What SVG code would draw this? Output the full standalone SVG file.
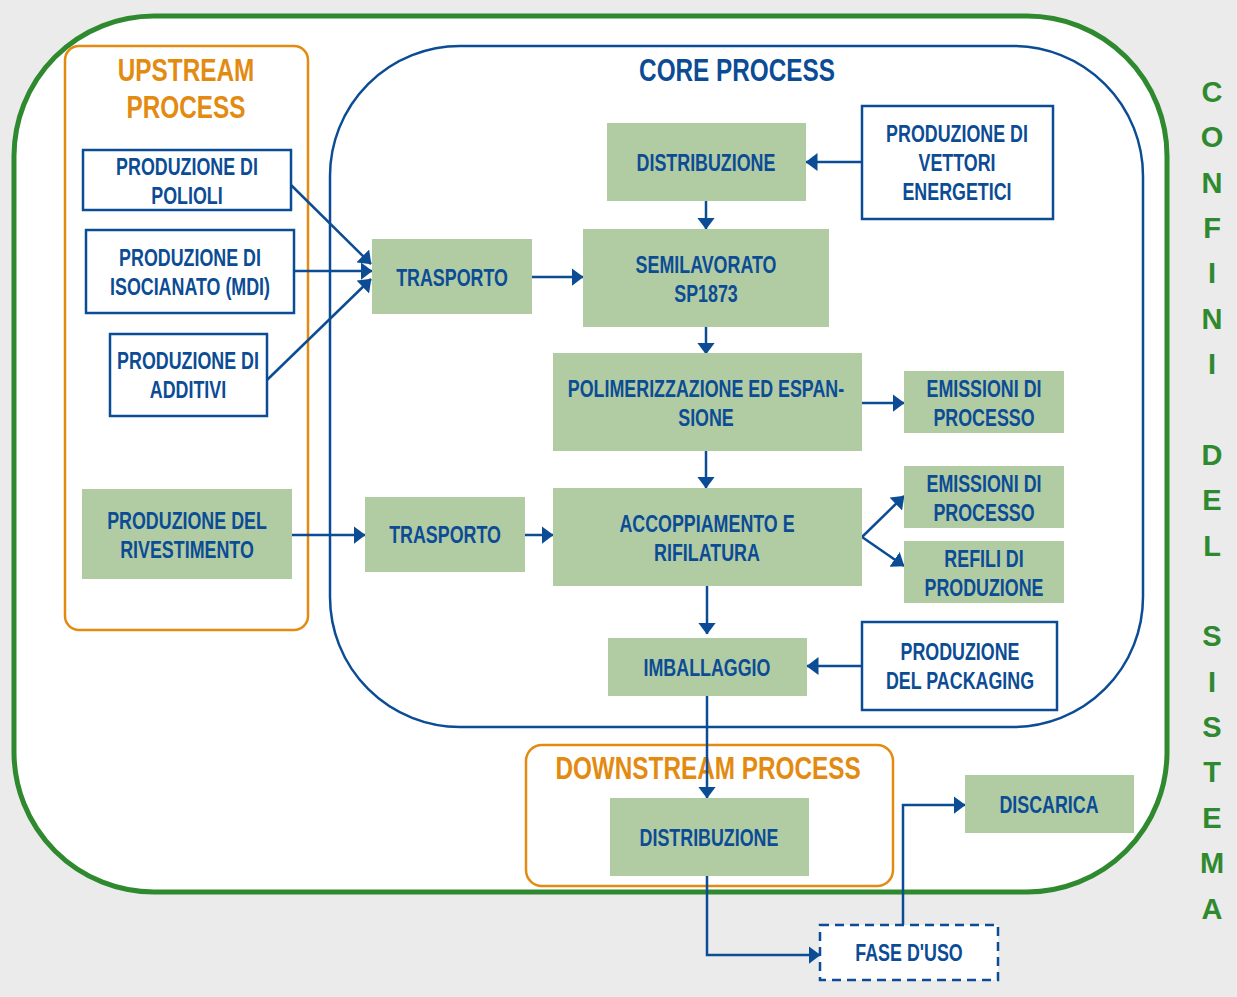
<svg xmlns="http://www.w3.org/2000/svg" width="1237" height="997" viewBox="0 0 1237 997">
<defs>
<style>
.t{font-family:"Liberation Sans",Arial,sans-serif;font-weight:bold;font-size:23.5px;fill:#0b4c95;text-anchor:middle}
.h{font-family:"Liberation Sans",Arial,sans-serif;font-weight:bold;font-size:32px;text-anchor:middle}
.o{fill:#e38a10}
.b{fill:#0b4c95}
.g{fill:#b1cba3}
.w{fill:#fff;stroke:#0b4c95;stroke-width:2.5}
.c{fill:none;stroke:#0b4c95;stroke-width:2.5}
.v{font-family:"Liberation Sans",Arial,sans-serif;font-weight:bold;font-size:29px;fill:#2f8a2f;text-anchor:middle}
</style>
<marker id="ah" markerWidth="12" markerHeight="18" refX="11.5" refY="9" orient="auto" markerUnits="userSpaceOnUse">
<path d="M0,0 L12,9 L0,18 Z" fill="#0b4c95"/>
</marker>
</defs>
<rect x="0" y="0" width="1237" height="997" fill="#ebebeb"/>
<rect id="system-boundary" x="14" y="16" width="1153" height="876" rx="140" ry="140" fill="#fff" stroke="#2f8a2f" stroke-width="5"/>
<g id="upstream">
<rect x="65" y="46" width="243" height="584" rx="14" fill="none" stroke="#e38a10" stroke-width="2.5"/>
<text class="h o" transform="translate(186,81) scale(.76,1)">UPSTREAM</text>
<text class="h o" transform="translate(186,118) scale(.76,1)">PROCESS</text>
</g>
<g id="core">
<rect x="330" y="46" width="813" height="681" rx="130" ry="130" fill="none" stroke="#0b4c95" stroke-width="2.5"/>
<text class="h b" transform="translate(737,81) scale(.76,1)">CORE PROCESS</text>
</g>
<g id="downstream">
<rect x="526" y="745" width="367" height="141" rx="16" fill="none" stroke="#e38a10" stroke-width="2.5"/>
<text class="h o" transform="translate(708,779) scale(.76,1)">DOWNSTREAM PROCESS</text>
</g>

<g id="connectors">
<line class="c" x1="291" y1="185" x2="371" y2="264" marker-end="url(#ah)"/>
<line class="c" x1="294" y1="271" x2="372" y2="271" marker-end="url(#ah)"/>
<line class="c" x1="267" y1="380" x2="371" y2="279" marker-end="url(#ah)"/>
<line class="c" x1="532" y1="277" x2="583" y2="277" marker-end="url(#ah)"/>
<line class="c" x1="862" y1="162" x2="806" y2="162" marker-end="url(#ah)"/>
<line class="c" x1="706" y1="201" x2="706" y2="229" marker-end="url(#ah)"/>
<line class="c" x1="706" y1="327" x2="706" y2="354" marker-end="url(#ah)"/>
<line class="c" x1="706" y1="451" x2="706" y2="488" marker-end="url(#ah)"/>
<line class="c" x1="862" y1="403" x2="904" y2="403" marker-end="url(#ah)"/>
<line class="c" x1="862" y1="537" x2="904" y2="496" marker-end="url(#ah)"/>
<line class="c" x1="862" y1="537" x2="904" y2="566" marker-end="url(#ah)"/>
<line class="c" x1="292" y1="535" x2="365" y2="535" marker-end="url(#ah)"/>
<line class="c" x1="525" y1="535" x2="553" y2="535" marker-end="url(#ah)"/>
<line class="c" x1="707" y1="586" x2="707" y2="634" marker-end="url(#ah)"/>
<line class="c" x1="862" y1="666" x2="807" y2="666" marker-end="url(#ah)"/>
<line class="c" x1="707" y1="696" x2="707" y2="798" marker-end="url(#ah)"/>
<polyline class="c" points="707,876 707,955 820,955" marker-end="url(#ah)"/>
<polyline class="c" points="903,925 903,805 965,805" marker-end="url(#ah)"/>
</g>

<g id="polioli"><rect class="w" x="83" y="150" width="208" height="60"/><text class="t" transform="translate(187,175) scale(.76,1)">PRODUZIONE DI</text><text class="t" transform="translate(187,204) scale(.76,1)">POLIOLI</text></g>
<g id="isocianato"><rect class="w" x="86" y="230" width="208" height="83"/><text class="t" transform="translate(190,266) scale(.76,1)">PRODUZIONE DI</text><text class="t" transform="translate(190,295) scale(.76,1)">ISOCIANATO (MDI)</text></g>
<g id="additivi"><rect class="w" x="110" y="334" width="157" height="82"/><text class="t" transform="translate(188,369) scale(.76,1)">PRODUZIONE DI</text><text class="t" transform="translate(188,398) scale(.76,1)">ADDITIVI</text></g>
<g id="rivestimento"><rect class="g" x="82" y="489" width="210" height="90"/><text class="t" transform="translate(187,529) scale(.76,1)">PRODUZIONE DEL</text><text class="t" transform="translate(187,558) scale(.76,1)">RIVESTIMENTO</text></g>
<g id="trasporto1"><rect class="g" x="372" y="239" width="160" height="75"/><text class="t" transform="translate(452,286) scale(.76,1)">TRASPORTO</text></g>
<g id="trasporto2"><rect class="g" x="365" y="497" width="160" height="75"/><text class="t" transform="translate(445,543) scale(.76,1)">TRASPORTO</text></g>
<g id="distribuzione-core"><rect class="g" x="607" y="123" width="199" height="78"/><text class="t" transform="translate(706,171) scale(.76,1)">DISTRIBUZIONE</text></g>
<g id="vettori"><rect class="w" x="862" y="106" width="191" height="113"/><text class="t" transform="translate(957,142) scale(.76,1)">PRODUZIONE DI</text><text class="t" transform="translate(957,171) scale(.76,1)">VETTORI</text><text class="t" transform="translate(957,200) scale(.76,1)">ENERGETICI</text></g>
<g id="semilavorato"><rect class="g" x="583" y="229" width="246" height="98"/><text class="t" transform="translate(706,273) scale(.76,1)">SEMILAVORATO</text><text class="t" transform="translate(706,302) scale(.76,1)">SP1873</text></g>
<g id="polimerizzazione"><rect class="g" x="553" y="353" width="309" height="98"/><text class="t" transform="translate(706,397) scale(.76,1)">POLIMERIZZAZIONE ED ESPAN-</text><text class="t" transform="translate(706,426) scale(.76,1)">SIONE</text></g>
<g id="emissioni1"><rect class="g" x="904" y="371" width="160" height="62"/><text class="t" transform="translate(984,397) scale(.76,1)">EMISSIONI DI</text><text class="t" transform="translate(984,426) scale(.76,1)">PROCESSO</text></g>
<g id="accoppiamento"><rect class="g" x="553" y="488" width="309" height="98"/><text class="t" transform="translate(707,532) scale(.76,1)">ACCOPPIAMENTO E</text><text class="t" transform="translate(707,561) scale(.76,1)">RIFILATURA</text></g>
<g id="emissioni2"><rect class="g" x="904" y="466" width="160" height="62"/><text class="t" transform="translate(984,492) scale(.76,1)">EMISSIONI DI</text><text class="t" transform="translate(984,521) scale(.76,1)">PROCESSO</text></g>
<g id="refili"><rect class="g" x="904" y="541" width="160" height="62"/><text class="t" transform="translate(984,567) scale(.76,1)">REFILI DI</text><text class="t" transform="translate(984,596) scale(.76,1)">PRODUZIONE</text></g>
<g id="imballaggio"><rect class="g" x="608" y="638" width="199" height="58"/><text class="t" transform="translate(707,676) scale(.76,1)">IMBALLAGGIO</text></g>
<g id="packaging"><rect class="w" x="862" y="622" width="195" height="88"/><text class="t" transform="translate(960,660) scale(.76,1)">PRODUZIONE</text><text class="t" transform="translate(960,689) scale(.76,1)">DEL PACKAGING</text></g>
<g id="distribuzione-down"><rect class="g" x="610" y="798" width="199" height="78"/><text class="t" transform="translate(709,846) scale(.76,1)">DISTRIBUZIONE</text></g>
<g id="discarica"><rect class="g" x="965" y="775" width="169" height="58"/><text class="t" transform="translate(1049,813) scale(.76,1)">DISCARICA</text></g>
<g id="fase-uso"><rect x="820" y="925" width="178" height="55" fill="#fff" stroke="#0b4c95" stroke-width="2.5" stroke-dasharray="9,6"/><text class="t" transform="translate(909,961) scale(.76,1)">FASE D'USO</text></g>

<g id="confini">
<text class="v" x="1212" y="102">C</text>
<text class="v" x="1212" y="147">O</text>
<text class="v" x="1212" y="193">N</text>
<text class="v" x="1212" y="238">F</text>
<text class="v" x="1212" y="283">I</text>
<text class="v" x="1212" y="329">N</text>
<text class="v" x="1212" y="374">I</text>
<text class="v" x="1212" y="465">D</text>
<text class="v" x="1212" y="510">E</text>
<text class="v" x="1212" y="556">L</text>
<text class="v" x="1212" y="646">S</text>
<text class="v" x="1212" y="692">I</text>
<text class="v" x="1212" y="737">S</text>
<text class="v" x="1212" y="782">T</text>
<text class="v" x="1212" y="828">E</text>
<text class="v" x="1212" y="873">M</text>
<text class="v" x="1212" y="919">A</text>
</g>
</svg>
